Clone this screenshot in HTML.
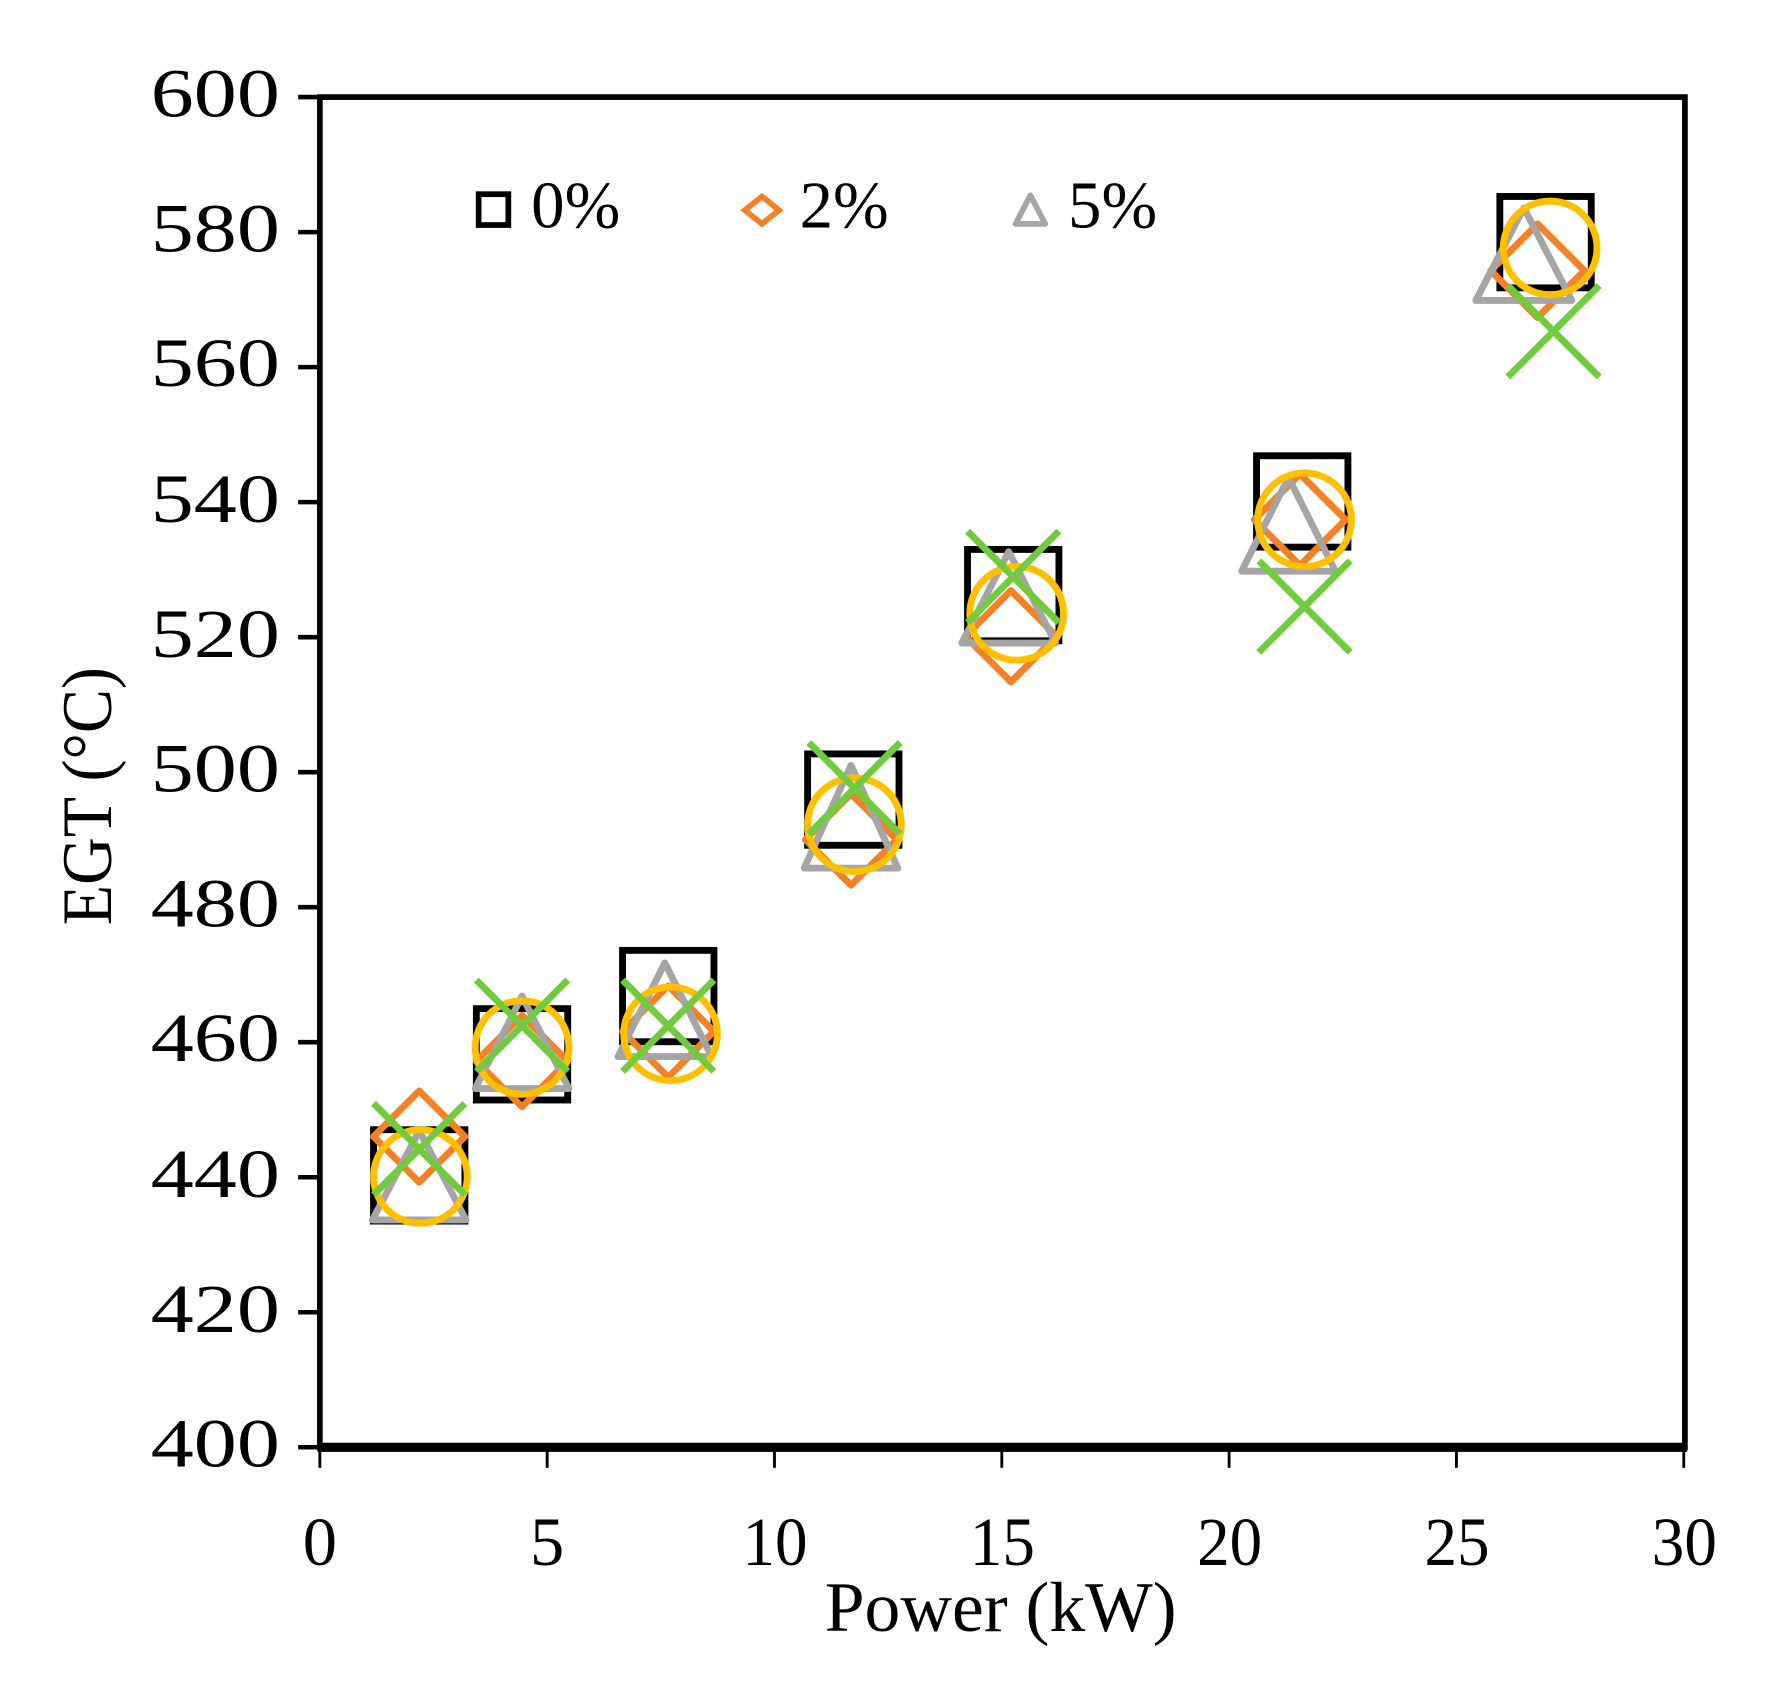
<!DOCTYPE html>
<html><head><meta charset="utf-8"><style>html,body{margin:0;padding:0;background:#fff}svg{display:block}</style></head>
<body>
<svg width="1782" height="1682" viewBox="0 0 1560 1472.5" preserveAspectRatio="none" xmlns="http://www.w3.org/2000/svg" font-family="'Liberation Serif', serif" fill="none">
<rect width="1560" height="1472.5" fill="#fff"/>
<rect x="280" y="85" width="1195" height="1182" stroke="#000" stroke-width="5"/>
<line x1="278" y1="1267" x2="1477" y2="1267" stroke="#000" stroke-width="8"/>
<g stroke="#000" stroke-width="4">
<line x1="261" y1="85" x2="280" y2="85"/><line x1="261" y1="203.2" x2="280" y2="203.2"/>
<line x1="261" y1="321.4" x2="280" y2="321.4"/><line x1="261" y1="439.6" x2="280" y2="439.6"/>
<line x1="261" y1="557.8" x2="280" y2="557.8"/><line x1="261" y1="676" x2="280" y2="676"/>
<line x1="261" y1="794.2" x2="280" y2="794.2"/><line x1="261" y1="912.4" x2="280" y2="912.4"/>
<line x1="261" y1="1030.6" x2="280" y2="1030.6"/><line x1="261" y1="1148.8" x2="280" y2="1148.8"/>
<line x1="261" y1="1267" x2="280" y2="1267"/>
</g>
<g stroke="#000" stroke-width="2.5">
<line x1="280" y1="1267" x2="280" y2="1285"/><line x1="479" y1="1267" x2="479" y2="1285"/>
<line x1="678" y1="1267" x2="678" y2="1285"/><line x1="877" y1="1267" x2="877" y2="1285"/>
<line x1="1076" y1="1267" x2="1076" y2="1285"/><line x1="1275" y1="1267" x2="1275" y2="1285"/>
<line x1="1474" y1="1267" x2="1474" y2="1285"/>
</g>
<g fill="#000" font-size="60" lengthAdjust="spacingAndGlyphs">
<text x="132" y="102" textLength="113" lengthAdjust="spacingAndGlyphs">600</text>
<text x="132" y="220" textLength="113" lengthAdjust="spacingAndGlyphs">580</text>
<text x="132" y="338" textLength="113" lengthAdjust="spacingAndGlyphs">560</text>
<text x="132" y="457" textLength="113" lengthAdjust="spacingAndGlyphs">540</text>
<text x="132" y="575" textLength="113" lengthAdjust="spacingAndGlyphs">520</text>
<text x="132" y="693" textLength="113" lengthAdjust="spacingAndGlyphs">500</text>
<text x="132" y="811" textLength="113" lengthAdjust="spacingAndGlyphs">480</text>
<text x="132" y="929" textLength="113" lengthAdjust="spacingAndGlyphs">460</text>
<text x="132" y="1048" textLength="113" lengthAdjust="spacingAndGlyphs">440</text>
<text x="132" y="1166" textLength="113" lengthAdjust="spacingAndGlyphs">420</text>
<text x="132" y="1284" textLength="113" lengthAdjust="spacingAndGlyphs">400</text>
</g>
<g fill="#000" font-size="60">
<text x="265" y="1370" textLength="30" lengthAdjust="spacingAndGlyphs">0</text>
<text x="464" y="1370" textLength="30" lengthAdjust="spacingAndGlyphs">5</text>
<text x="650" y="1370" textLength="57" lengthAdjust="spacingAndGlyphs">10</text>
<text x="849" y="1370" textLength="57" lengthAdjust="spacingAndGlyphs">15</text>
<text x="1048" y="1370" textLength="57" lengthAdjust="spacingAndGlyphs">20</text>
<text x="1247" y="1370" textLength="57" lengthAdjust="spacingAndGlyphs">25</text>
<text x="1446" y="1370" textLength="57" lengthAdjust="spacingAndGlyphs">30</text>
<text x="722" y="1428" font-size="62" textLength="308" lengthAdjust="spacingAndGlyphs">Power (kW)</text>
<text transform="translate(97,810) rotate(-90)" font-size="62" textLength="226" lengthAdjust="spacingAndGlyphs">EGT (°C)</text>
</g>
<rect x="419" y="170" width="26" height="27" stroke="#000" stroke-width="5"/>
<text x="465" y="199" fill="#000" font-size="58" textLength="78" lengthAdjust="spacingAndGlyphs">0%</text>
<polygon points="667,172 682,184 667,196 652,184" stroke="#F58025" stroke-width="5"/>
<text x="700" y="199" fill="#000" font-size="58" textLength="78" lengthAdjust="spacingAndGlyphs">2%</text>
<polygon points="902,171 915,196 889,196" stroke="#A5A5A5" stroke-width="5" stroke-linejoin="round"/>
<text x="935" y="199" fill="#000" font-size="58" textLength="78" lengthAdjust="spacingAndGlyphs">5%</text>
<g stroke="#000" stroke-width="6">
<rect x="327" y="989" width="80" height="80"/><rect x="417" y="883" width="80" height="80"/>
<rect x="545" y="832" width="80" height="80"/><rect x="707" y="660" width="80" height="80"/>
<rect x="847" y="481" width="80" height="80"/><rect x="1100" y="399" width="80" height="80"/>
<rect x="1313" y="172" width="80" height="80"/>
</g>
<g stroke="#F58025" stroke-width="6" stroke-linejoin="round">
<polygon points="367,955 407,995 367,1035 327,995"/>
<polygon points="457,889 497,929 457,969 417,929"/>
<polygon points="585,863 625,903 585,943 545,903"/>
<polygon points="745,695 785,735 745,775 705,735"/>
<polygon points="885,517 925,557 885,597 845,557"/>
<polygon points="1138,415 1178,455 1138,495 1098,455"/>
<polygon points="1346,196 1387,237 1346,278 1305,237"/>
</g>
<g stroke="#A5A5A5" stroke-width="6" stroke-linejoin="round">
<polygon points="367,990 408,1068 326,1068"/>
<polygon points="457,872 498,953 416,953"/>
<polygon points="582,843 623,925 541,925"/>
<polygon points="745,670 786,760 704,760"/>
<polygon points="883,483 924,563 842,563"/>
<polygon points="1128,418 1169,500 1087,500"/>
<polygon points="1334,182 1376,263 1292,263"/>
</g>
<g stroke="#FFC000" stroke-width="6">
<circle cx="368" cy="1030" r="41"/><circle cx="457" cy="917" r="41"/>
<circle cx="587" cy="905" r="41"/><circle cx="748" cy="722" r="41"/>
<circle cx="890" cy="537" r="41"/><circle cx="1142" cy="455" r="41"/>
<circle cx="1357" cy="217" r="41"/>
</g>
<g stroke="#70CC3E" stroke-width="6">
<path d="M327,966 L407,1046 M407,966 L327,1046"/>
<path d="M417,858 L497,938 M497,858 L417,938"/>
<path d="M545,858 L625,938 M625,858 L545,938"/>
<path d="M708,650 L788,730 M788,650 L708,730"/>
<path d="M847,465 L927,545 M927,465 L847,545"/>
<path d="M1102,491 L1182,571 M1182,491 L1102,571"/>
<path d="M1320,250 L1400,330 M1400,250 L1320,330"/>
</g>
</svg>
</body></html>
